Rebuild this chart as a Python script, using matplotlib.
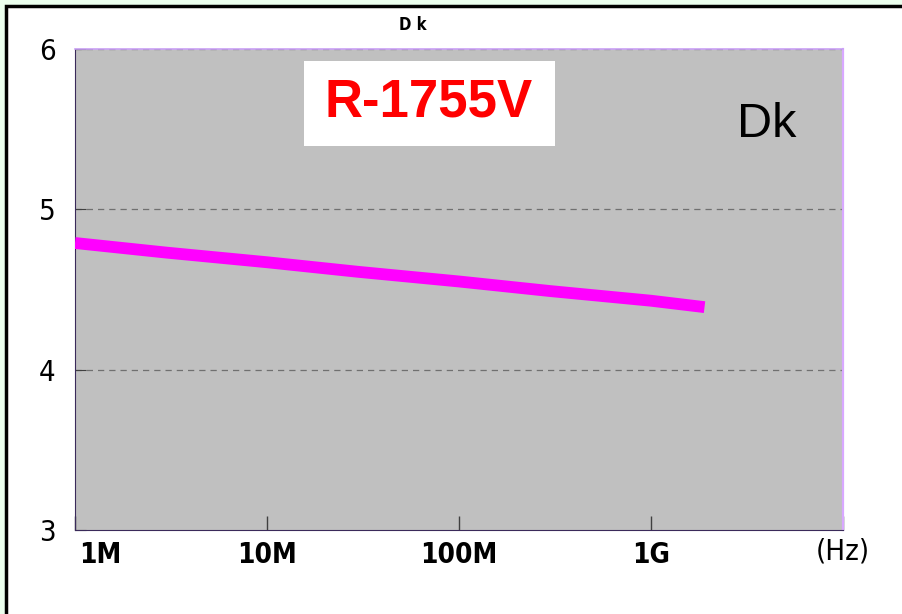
"""
Dk vs frequency chart for R-1755V
"""
import numpy as np
import matplotlib.pyplot as plt
from matplotlib.patches import Rectangle

# values
freq = [1e6, 3e6, 1e7, 3e7, 1e8, 3e8, 1e9, 1.9e9]
dk = [4.79, 4.73, 4.67, 4.61, 4.55, 4.49, 4.43, 4.39]
xticks = [1e6, 1e7, 1e8, 1e9, 1e10]
xlabels = ["1M", "10M", "100M", "1G", "(Hz)"]
yticks = [3, 4, 5, 6]

plt.rcParams["font.family"] = ["Liberation Sans", "DejaVu Sans"]
cond = dict(family="DejaVu Sans", stretch="condensed")

fig = plt.figure(figsize=(9.03, 6.14), dpi=100)
fig.patch.set_facecolor("#ebffee")
# white panel with black border (top/left visible)
fig.patches.append(Rectangle((6 / 903, -0.1), 1.2, 1 - 6 / 614 + 0.1,
                             transform=fig.transFigure, facecolor="white",
                             edgecolor="black", linewidth=2.5, zorder=-5))

ax = fig.add_axes([75 / 903, 1 - 530 / 614, 768 / 903, 481 / 614])
ax.set_zorder(2)
ax.set_facecolor("#c0c0c0")
ax.set_xscale("log")
ax.set_xlim(1e6, 1e10)
ax.set_ylim(3, 6)

for y in [4, 5, 6]:
    ax.axhline(y, color="#707070", linestyle=(0, (5, 4)), linewidth=0.9, zorder=1)

ax.plot(freq, dk, color="#ff00ff", linewidth=8.5, solid_capstyle="butt", zorder=3)

ax.spines["left"].set_color("#3a2a5a")
ax.spines["bottom"].set_color("#3a2a5a")
ax.spines["top"].set_color("#c9a0f5")
ax.spines["right"].set_color("#d8a8ff")
ax.spines["right"].set_linewidth(1.6)
ax.spines["top"].set_linewidth(1.2)

ax.set_xticks(xticks)
ax.set_xticklabels([])
ax.xaxis.set_minor_locator(plt.NullLocator())
ax.tick_params(axis="x", direction="in", length=10, color="#404040", width=1)
ax.set_yticks(yticks)
ax.set_yticklabels([str(v) for v in yticks], fontsize=21, **cond)
ax.tick_params(axis="y", direction="in", length=8, color="#404040", pad=14)

# x labels placed by hand like the original
lab_trans = ax.get_xaxis_transform()
for f, lab in zip(xticks, xlabels):
    hz = lab == "(Hz)"
    xf = f * 1.35 if lab == "1M" else f
    ax.text(xf, -0.045 if hz else -0.052, lab, transform=lab_trans,
            ha="center", va="center", fontsize=21 if hz else 20,
            fontweight="normal" if hz else "bold", clip_on=False, **cond)

fig.text(413 / 903, 1 - 25 / 614, "D k", ha="center", va="center",
         fontsize=12, fontweight="bold", **cond)

ax.add_patch(Rectangle((0.298, 0.798), 0.327, 0.177, transform=ax.transAxes,
                       facecolor="white", edgecolor="none", zorder=4))
ax.text(0.461, 0.888, "R-1755V", transform=ax.transAxes, ha="center", va="center",
        color="#ff0000", fontsize=38, fontweight="bold", zorder=5)
ax.text(0.90, 0.842, "Dk", transform=ax.transAxes, ha="center", va="center",
        color="black", fontsize=35)

fig.savefig("out.png", dpi=100, facecolor=fig.get_facecolor())
